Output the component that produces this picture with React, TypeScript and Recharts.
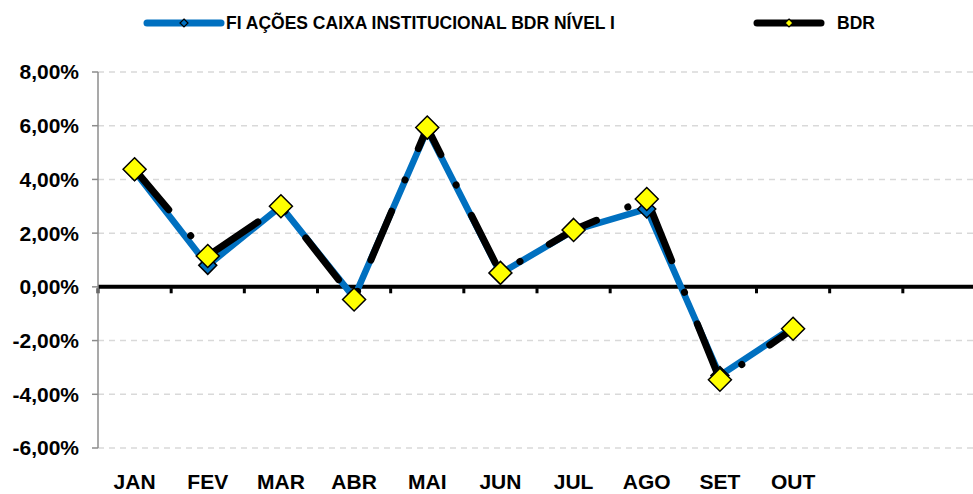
import React from 'react';
import { LineChart, Line, XAxis, YAxis, CartesianGrid, ReferenceLine } from 'recharts';

const months = ['JAN', 'FEV', 'MAR', 'ABR', 'MAI', 'JUN', 'JUL', 'AGO', 'SET', 'OUT', '', ''];
const fundo = [4.3, 0.8, 3.0, -0.4, 5.85, 0.5, 2.1, 2.9, -3.3, -1.5, null, null];
const bdr = [4.38, 1.15, 3.0, -0.47, 5.93, 0.52, 2.12, 3.27, -3.46, -1.56, null, null];
const yTicks = [-6, -4, -2, 0, 2, 4, 6, 8];

const FUND_NAME = 'FI AÇÕES CAIXA INSTITUCIONAL BDR NÍVEL I';
const BDR_NAME = 'BDR';
const BLUE = '#0070C0';
const FONT = '"Liberation Sans", Arial, sans-serif';

const data = months.map((m, i) => ({ pos: i + 0.5, month: m, fundo: fundo[i], bdr: bdr[i] }));
const labelTicks = data.filter(d => d.month !== '').map(d => d.pos);
const boundaries = months.map((_, i) => i).concat([months.length]);

const fmtPct = (v: number) => v.toFixed(2).replace('.', ',') + '%';

const Diamond = (r: number, fill: string) => (props: any) => {
    const { cx, cy, index } = props;
    if (cx == null || cy == null || props.value == null) return <g key={index} />;
    return (
        <polygon
            key={index}
            points={`${cx},${cy - r} ${cx + r},${cy} ${cx},${cy + r} ${cx - r},${cy}`}
            fill={fill}
            stroke="#000"
            strokeWidth={1.5}
        />
    );
};

function LegendItem({ left, lineW, color, dotFill, text, gap }: any) {
    return (
        <div style={{ position: 'absolute', left, top: 11, display: 'flex', alignItems: 'center' }}>
            <svg width={lineW + 6} height={24}>
                <line x1={4} y1={12} x2={lineW + 2} y2={12} stroke={color} strokeWidth={7} strokeLinecap="round" />
                <polygon
                    points={`${lineW / 2 + 3},8 ${lineW / 2 + 7},12 ${lineW / 2 + 3},16 ${lineW / 2 - 1},12`}
                    fill={dotFill}
                    stroke="#000"
                    strokeWidth={1.2}
                />
            </svg>
            <span style={{ fontFamily: FONT, fontWeight: 700, fontSize: 17.5, marginLeft: gap, color: '#000', whiteSpace: 'nowrap' }}>
                {text}
            </span>
        </div>
    );
}

export default function App() {
    return (
        <div style={{ position: 'absolute', left: 0, top: 0, width: 973, height: 494, overflow: 'hidden', background: '#fff' }}>
            <LegendItem left={143} lineW={76} color={BLUE} dotFill={BLUE} text={FUND_NAME} gap={1} />
            <LegendItem left={753} lineW={66} color="#000" dotFill="#FFFF00" text={BDR_NAME} gap={12} />
            <LineChart width={980} height={494} data={data} margin={{ top: 72, right: 4, bottom: 0, left: 0 }}>
                <CartesianGrid vertical={false} stroke="#d9d9d9" strokeWidth={1.5} strokeDasharray="6 5" />
                <XAxis
                    dataKey="pos"
                    type="number"
                    domain={[0, 12]}
                    ticks={labelTicks}
                    tickFormatter={(v: number) => months[Math.floor(v)]}
                    axisLine={false}
                    tickLine={false}
                    tickSize={0}
                    tickMargin={26}
                    height={46}
                    interval={0}
                    tick={{ fill: '#000', fontFamily: FONT, fontWeight: 700, fontSize: 21 }}
                />
                <YAxis
                    domain={[-6, 8]}
                    ticks={yTicks}
                    tickFormatter={fmtPct}
                    width={98}
                    axisLine={{ stroke: '#8c8c8c', strokeWidth: 1.5 }}
                    tickLine={{ stroke: '#8c8c8c', strokeWidth: 1.5 }}
                    tickSize={6}
                    tickMargin={13}
                    tick={{ fill: '#000', fontFamily: FONT, fontWeight: 700, fontSize: 21 }}
                />
                <ReferenceLine y={0} stroke="#000" strokeWidth={4} />
                {boundaries.map(b => (
                    <ReferenceLine
                        key={b}
                        segment={[{ x: b, y: -0.05 }, { x: b, y: -0.24 }]}
                        stroke="#000"
                        strokeWidth={3}
                        ifOverflow="visible"
                    />
                ))}
                <Line
                    dataKey="fundo"
                    name={FUND_NAME}
                    stroke={BLUE}
                    strokeWidth={6.5}
                    strokeLinecap="round"
                    strokeLinejoin="round"
                    dot={Diamond(9, BLUE)}
                    activeDot={false}
                    isAnimationActive={false}
                />
                <Line
                    dataKey="bdr"
                    name={BDR_NAME}
                    stroke="#000"
                    strokeWidth={7}
                    strokeLinecap="round"
                    strokeDasharray="53 34 0.1 34"
                    dot={Diamond(11.5, '#FFFF00')}
                    activeDot={false}
                    isAnimationActive={false}
                />
            </LineChart>
        </div>
    );
}
